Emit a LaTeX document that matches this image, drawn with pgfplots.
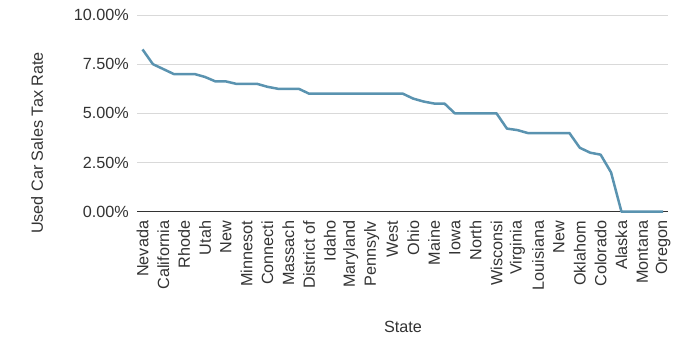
\documentclass[border=0pt]{standalone}
\usepackage{pgfplots}
\pgfplotsset{compat=1.18}
\usepackage{fontspec}
\setmainfont{Liberation Sans}
\definecolor{linecol}{HTML}{5A93B0}
\definecolor{gridcol}{HTML}{D9D9D9}
\definecolor{txtcol}{HTML}{333333}
\begin{document}
\begin{tikzpicture}[x=1pt,y=1pt]
\useasboundingbox (0,0) rectangle (700,354);
\begin{axis}[
  at={(137.3pt,142.3pt)}, anchor=south west,
  scale only axis, width=531pt, height=196.7pt,
  xmin=-0.5, xmax=50.5, ymin=0, ymax=10,
  axis line style={draw=none},
  ytick={0,2.5,5,7.5,10},
  yticklabels={0.00\%,2.50\%,5.00\%,7.50\%,10.00\%},
  xtick={0,2,...,50},
  xticklabels={Nevada,California,Rhode,Utah,New,Minnesot,Connecti,Massach,District of,Idaho,Maryland,Pennsylv,West,Ohio,Maine,Iowa,North,Wisconsi,Virginia,Louisiana,New,Oklahom,Colorado,Alaska,Montana,Oregon},
  x tick label style={rotate=90, anchor=east, inner sep=0pt, xshift=0pt},
  xticklabel shift=9pt,
  yticklabel shift=5pt,
  tick label style={font=\fontsize{16.2}{19}\selectfont, text=txtcol},
  major tick length=0pt,
  ymajorgrids, grid style={gridcol, line width=1pt},
  clip=false,
]
\draw[txtcol, line width=1.2pt] (axis cs:-0.5,0) -- (axis cs:50.5,0);
\addplot[linecol, line width=2.5pt, line join=round] coordinates {
(0,8.25) (1,7.5) (2,7.25) (3,7.0) (4,7.0) (5,7.0) (6,6.85) (7,6.625) (8,6.625)
(9,6.5) (10,6.5) (11,6.5) (12,6.35) (13,6.25) (14,6.25) (15,6.25)
(16,6.0) (17,6.0) (18,6.0) (19,6.0) (20,6.0) (21,6.0) (22,6.0) (23,6.0) (24,6.0) (25,6.0)
(26,5.75) (27,5.6) (28,5.5) (29,5.5)
(30,5.0) (31,5.0) (32,5.0) (33,5.0) (34,5.0)
(35,4.225) (36,4.15) (37,4.0) (38,4.0) (39,4.0) (40,4.0) (41,4.0)
(42,3.25) (43,3.0) (44,2.9) (45,2.0)
(46,0) (47,0) (48,0) (49,0) (50,0)
};
\end{axis}
\node[font=\fontsize{16.2}{19}\selectfont, text=txtcol, rotate=90] at (37,211) {Used Car Sales Tax Rate};
\node[font=\fontsize{16.2}{19}\selectfont, text=txtcol] at (403,27) {State};
\end{tikzpicture}
\end{document}
